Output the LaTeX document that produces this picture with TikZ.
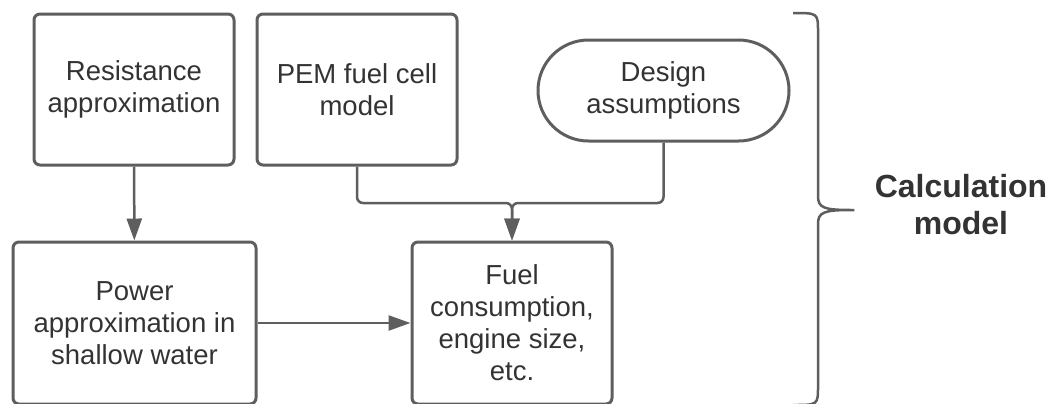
\documentclass[tikz,border=0pt]{standalone}
\usepackage{fontspec}
\setmainfont{Liberation Sans}
\usepackage{xcolor}
\usetikzlibrary{arrows.meta}
\definecolor{linegray}{HTML}{5E5E5E}
\definecolor{textgray}{HTML}{333333}

\begin{document}
\begin{tikzpicture}[x=0.5pt, y=-0.5pt, anchor=center,
    box/.style={draw=linegray, line width=1.5pt, rounded corners=3pt, text=textgray, align=center,
                font=\fontsize{13.75}{16}\selectfont, inner sep=0pt},
    link/.style={draw=linegray, line width=1.25pt, rounded corners=3pt},
    >={Triangle[length=11pt, width=7.5pt]}]
                            \useasboundingbox (0, 0) rectangle (1054, 403);

                            \node (res) at (134, 89.5) [box, minimum width=100pt, minimum height=75.5pt] {Resistance\\approximation};
                            \node (pem) at (357, 89.5) [box, minimum width=100pt, minimum height=75.5pt] {PEM fuel cell\\model};
                            \node (des) at (663.5, 90.5) [box, rounded corners=25.25pt, minimum width=125.5pt, minimum height=50.5pt] {Design\\assumptions};
                            \node (pow) at (134.5, 323) [box, minimum width=121.5pt, minimum height=81pt] {Power\\approximation in\\shallow water};
                            \node (fuel) at (512, 323) [box, minimum width=100pt, minimum height=81pt] {Fuel\\consumption,\\engine size,\\etc.};
                            \node (calc) at (961, 205) [text=textgray, align=center, font=\bfseries\fontsize{16}{18.5}\selectfont] {Calculation\\model};
                            \coordinate (join) at (512, 203);

                            \draw[link, ->] (res) to (pow);
                            \draw[link, ->] (pow) to (fuel);
                            \draw[link, ->] (pem.south) |- (join) -- (fuel.north);
                            \draw[link, ->] (des.south) |- (join) -- (fuel.north);
                            \draw[link] (793, 13) .. controls (818, 13) .. (818, 38) -- (818, 190)
                                .. controls (818, 208) and (824, 210) .. (858, 210)
                                .. controls (824, 210) and (818, 212) .. (818, 230) -- (818, 380)
                                .. controls (818, 405) .. (793, 405);
                        \end{tikzpicture}
\end{document}
